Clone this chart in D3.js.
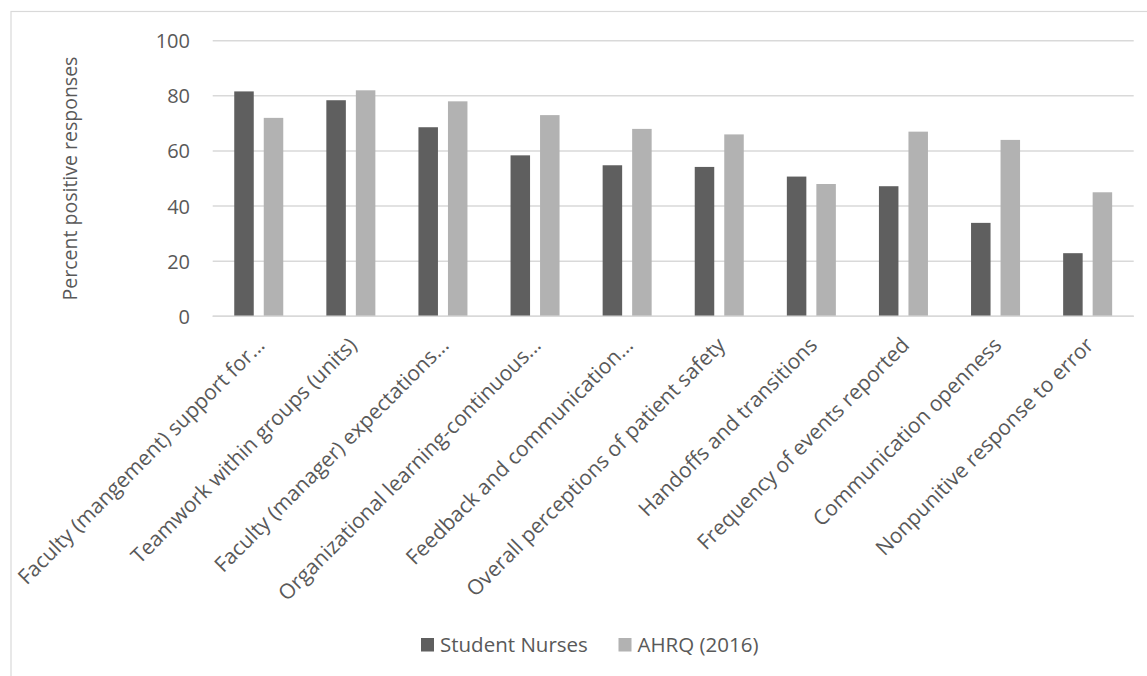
<!DOCTYPE html>
<html>
<head>
<meta charset="utf-8">
<script src="https://cdn.jsdelivr.net/npm/d3@7"></script>
<style>
  html, body { margin: 0; padding: 0; background: #fff; }
  svg { display: block; font-family: "Open Sans", "Noto Sans", sans-serif; }
</style>
</head>
<body>
<svg id="chart" width="1147" height="676"></svg>
<script>
// Survey dimensions (x-axis categories)
const categories = [
  "Faculty (mangement) support for...",
  "Teamwork within groups (units)",
  "Faculty (manager) expectations...",
  "Organizational learning-continuous...",
  "Feedback and communication...",
  "Overall perceptions of patient safety",
  "Handoffs and transitions",
  "Frequency of events reported",
  "Communication openness",
  "Nonpunitive response to error"
];

// Series names
const seriesNames = ["Student Nurses", "AHRQ (2016)"];

// Percent positive responses per series
const studentNurses = [81.6, 78.4, 68.6, 58.4, 54.8, 54.2, 50.7, 47.2, 33.9, 22.9];
const ahrq2016      = [72, 82, 78, 73, 68, 66, 48, 67, 64, 45];

// Y-axis ticks
const yTicks = [0, 20, 40, 60, 80, 100];
const yTitle = "Percent positive responses";

const seriesValues = [studentNurses, ahrq2016];
const seriesColors = ["#5f5f5f", "#b2b2b2"];
const textColor = "#595959";
const gridColor = "#d9d9d9";

const svg = d3.select("#chart");

// Outer chart frame
svg.append("rect")
  .attr("x", 11).attr("y", 11.5)
  .attr("width", 1160).attr("height", 700)
  .attr("fill", "none").attr("stroke", gridColor).attr("stroke-width", 1.2);

const plot = { left: 212.7, right: 1133.7, top: 40.7, bottom: 316.3 };

const x0 = d3.scaleBand().domain(categories).range([plot.left, plot.right]).padding(0);
const x1 = d3.scaleBand().domain(seriesNames).range([0, x0.bandwidth()])
  .paddingInner(0.339).paddingOuter(0.73);
const y = d3.scaleLinear().domain([0, 100]).range([plot.bottom, plot.top]);

// Horizontal gridlines
svg.append("g").selectAll("line").data(yTicks).join("line")
  .attr("x1", plot.left).attr("x2", plot.right)
  .attr("y1", d => y(d)).attr("y2", d => y(d))
  .attr("stroke", gridColor).attr("stroke-width", 1.4);

// Y axis labels
const yAxis = d3.axisLeft(y).tickValues(yTicks).tickSize(0).tickPadding(0);
const yg = svg.append("g").attr("transform", `translate(190,0)`).call(yAxis)
  .attr("font-family", null).attr("font-size", null);
yg.select(".domain").remove();
yg.selectAll("text")
  .attr("fill", textColor).style("font-size", "20px")
  .attr("dy", "0.35em");

// Bars
const rows = categories.map((c, i) => ({ c, vals: seriesNames.map((s, k) => ({ s, k, v: seriesValues[k][i] })) }));
svg.append("g").selectAll("g").data(rows).join("g")
  .attr("transform", d => `translate(${x0(d.c)},0)`)
  .selectAll("rect").data(d => d.vals).join("rect")
  .attr("x", d => x1(d.s))
  .attr("width", x1.bandwidth())
  .attr("y", d => y(d.v))
  .attr("height", d => y(0) - y(d.v))
  .attr("fill", d => seriesColors[d.k]);

// Baseline
svg.append("line")
  .attr("x1", plot.left).attr("x2", plot.right)
  .attr("y1", y(0)).attr("y2", y(0))
  .attr("stroke", gridColor).attr("stroke-width", 1.6);

// Category labels, rotated
const xAxis = d3.axisBottom(x0).tickSize(0).tickPadding(0);
const xg = svg.append("g").attr("transform", `translate(0,${plot.bottom})`).call(xAxis)
  .attr("font-family", null).attr("font-size", null);
xg.select(".domain").remove();
xg.selectAll("text")
  .attr("fill", textColor).style("font-size", "21px")
  .attr("text-anchor", "end")
  .attr("y", 0).attr("dy", "0.35em")
  .attr("transform", "translate(2,25) rotate(-45)");

// Y axis title
svg.append("text")
  .attr("transform", `translate(77,${(plot.top + plot.bottom) / 2}) rotate(-90)`)
  .attr("text-anchor", "middle")
  .attr("fill", textColor).style("font-size", "19.5px")
  .text(yTitle);

// Legend
const legendX = [421, 618.5];
const lg = svg.append("g").selectAll("g").data(seriesNames).join("g")
  .attr("transform", (d, i) => `translate(${legendX[i]},638)`);
lg.append("rect").attr("width", 13).attr("height", 13.5)
  .attr("fill", (d, i) => seriesColors[i]);
lg.append("text").attr("x", 19).attr("y", 14)
  .attr("fill", textColor).style("font-size", "20.5px")
  .text(d => d);
</script>
</body>
</html>
